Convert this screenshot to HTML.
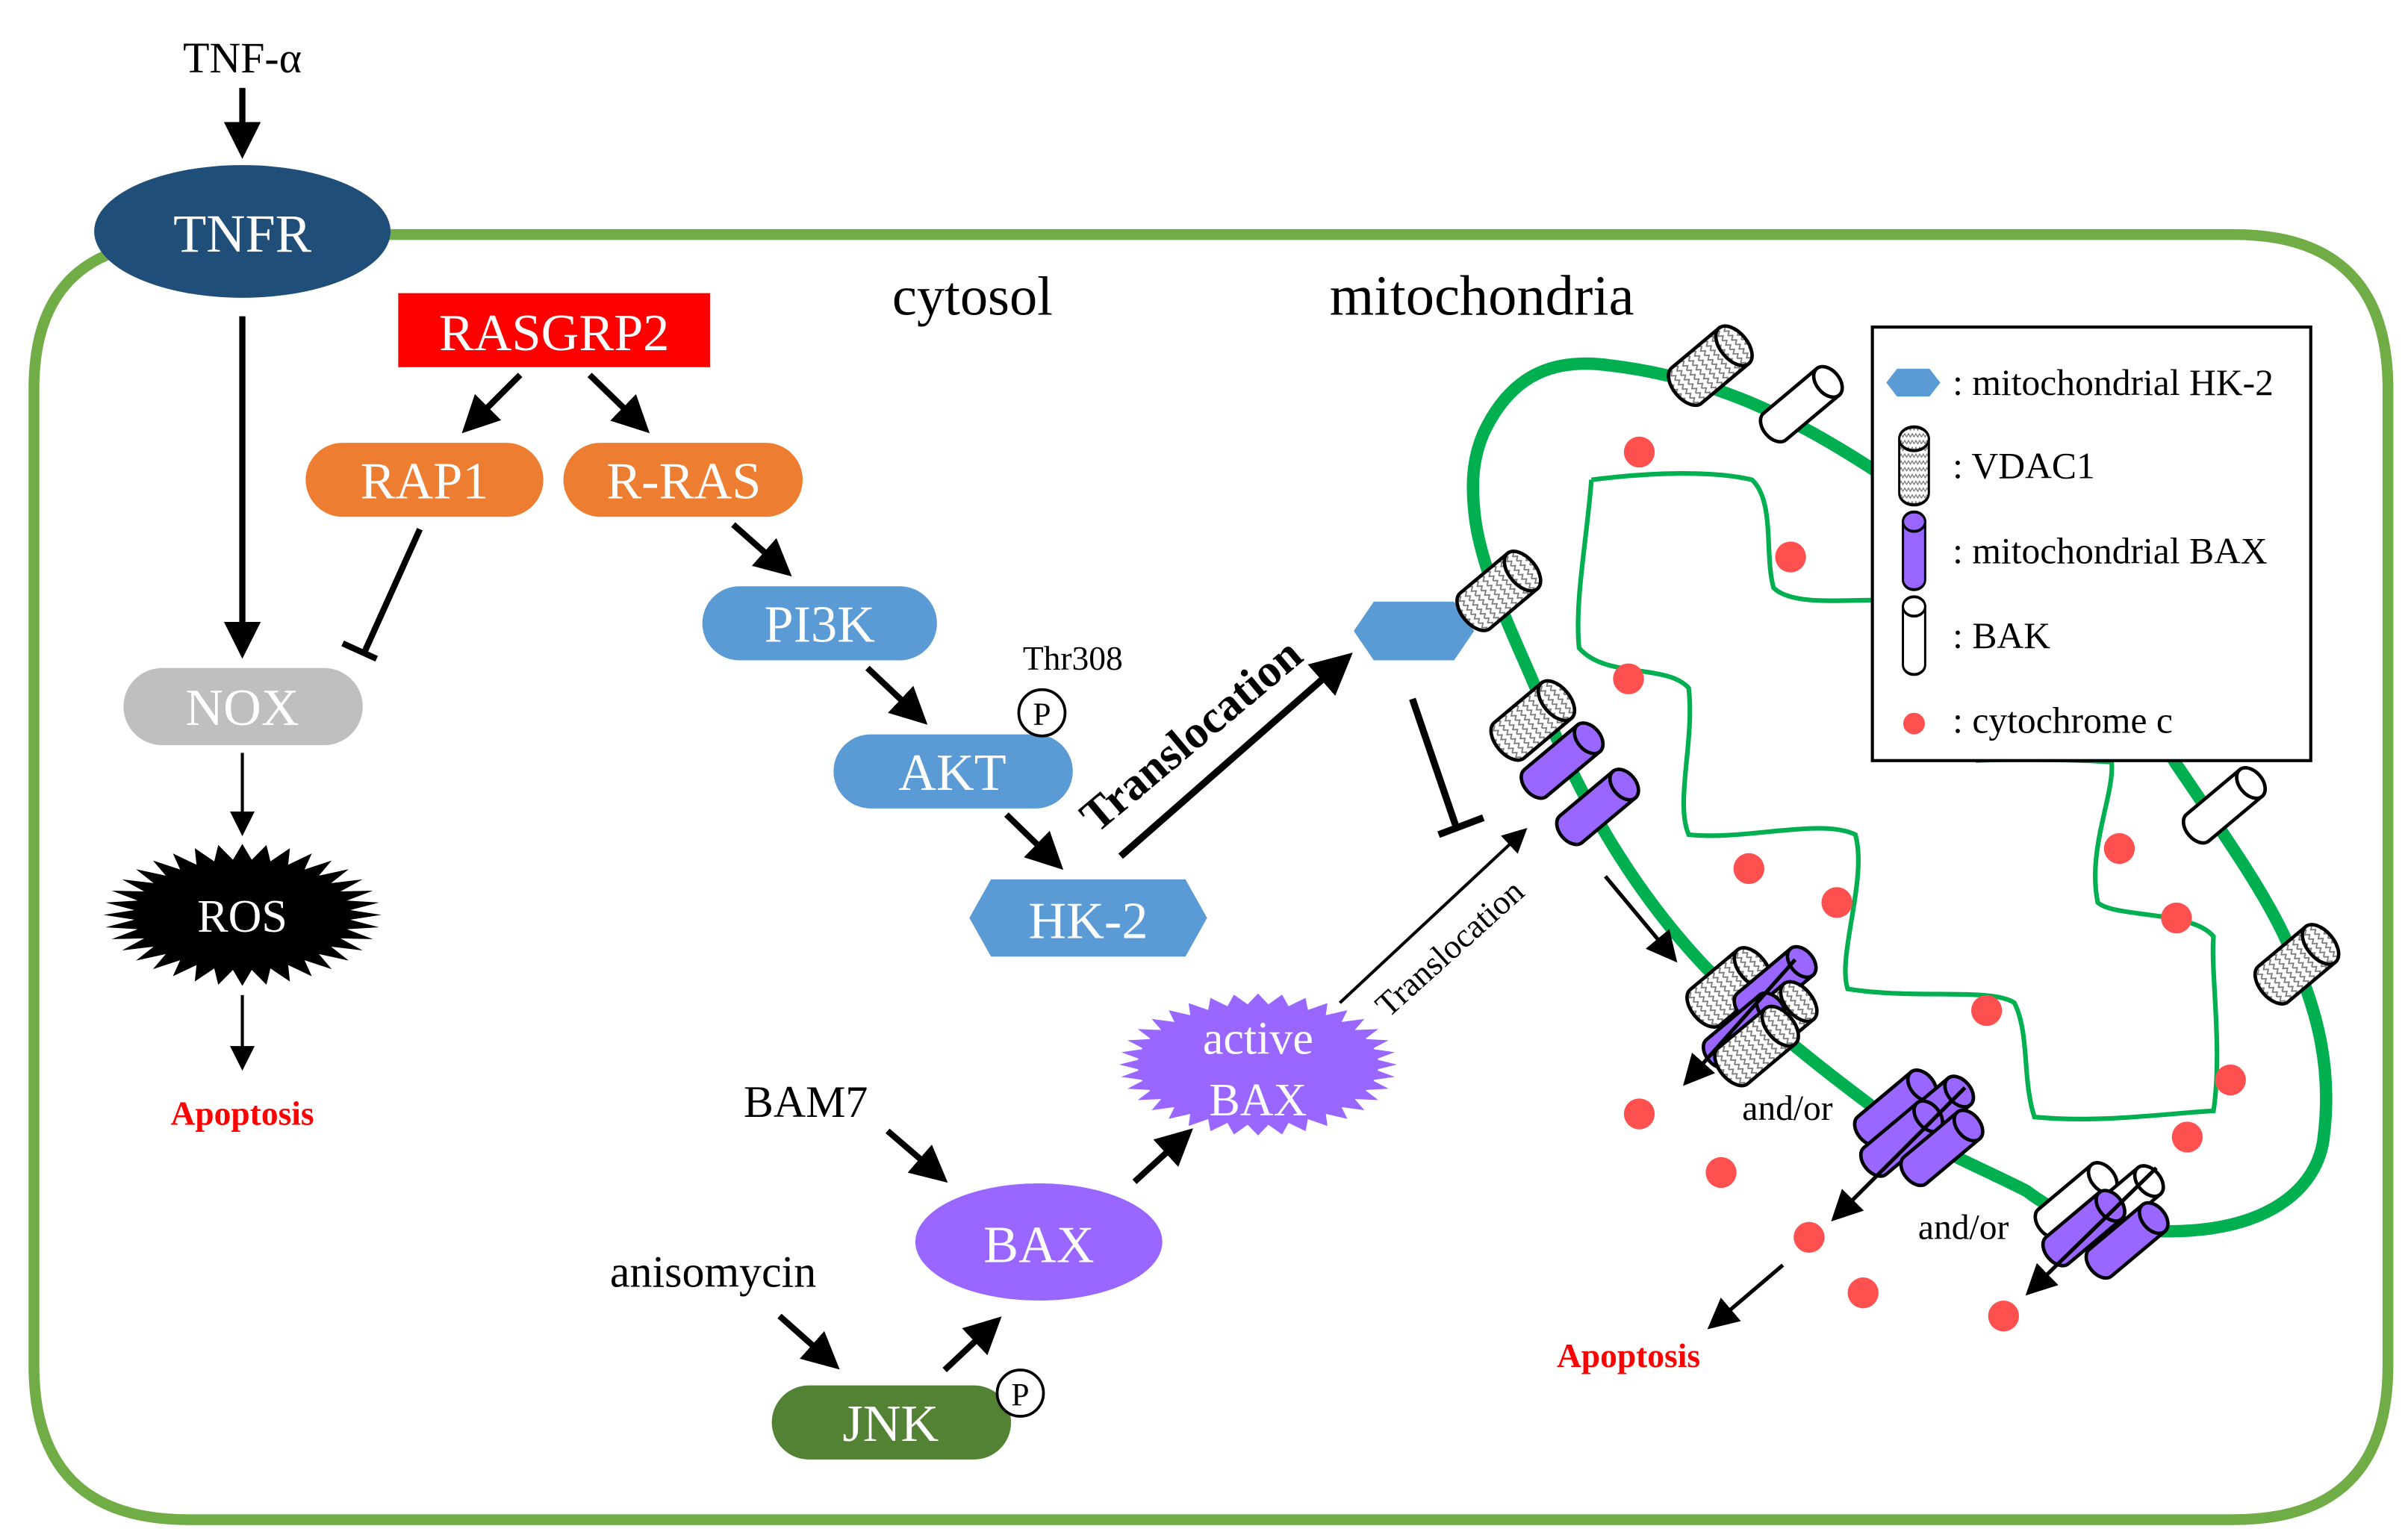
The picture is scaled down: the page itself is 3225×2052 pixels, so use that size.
<!DOCTYPE html>
<html><head><meta charset="utf-8"><style>
html,body{margin:0;padding:0;background:#fff}
svg{display:block}
text{font-family:"Liberation Serif",serif}
</style></head><body>
<svg id="s" width="3225" height="2052" viewBox="0 0 1560 993" preserveAspectRatio="none" xmlns="http://www.w3.org/2000/svg">
<defs>
<marker id="ah" markerWidth="6" markerHeight="6" refX="5" refY="3" orient="auto" markerUnits="strokeWidth"><path d="M0,0 L6,3 L0,6 z" fill="#000"/></marker>
<marker id="ah2" markerWidth="8" markerHeight="8" refX="7" refY="4" orient="auto" markerUnits="strokeWidth"><path d="M0,0 L8,4 L0,8 z" fill="#000"/></marker>
<pattern id="wv" width="6" height="4" patternUnits="userSpaceOnUse"><rect width="6" height="4" fill="#fff"/><path d="M0,3 L1.5,1 L3,3 L4.5,1 L6,3" fill="none" stroke="#777" stroke-width="0.7"/></pattern>
<g id="vdac"><path d="M-12,-16 L-12,16 A12,7 0 0 0 12,16 L12,-16 Z" fill="url(#wv)" stroke="#000" stroke-width="1.8"/><ellipse cx="0" cy="-16" rx="12" ry="7" fill="url(#wv)" stroke="#000" stroke-width="1.8"/></g>
<g id="bax"><path d="M-9,-18 L-9,18 A9,6 0 0 0 9,18 L9,-18 Z" fill="#9966ff" stroke="#000" stroke-width="1.8"/><ellipse cx="0" cy="-18" rx="9" ry="6" fill="#9966ff" stroke="#000" stroke-width="1.8"/></g>
<g id="bak"><path d="M-9,-18 L-9,18 A9,6 0 0 0 9,18 L9,-18 Z" fill="#fff" stroke="#000" stroke-width="1.8"/><ellipse cx="0" cy="-18" rx="9" ry="6" fill="#fff" stroke="#000" stroke-width="1.8"/></g>
</defs>

<path d="M230,152 L1447,152 Q1547,152 1547,252 L1547,885 Q1547,985 1447,985 L122,985 Q22,985 22,885 L22,252 Q22,185 70,165" fill="none" stroke="#70ad47" stroke-width="7"/>

<text x="157" y="47" font-size="28" text-anchor="middle">TNF-α</text>
<line x1="157" y1="57" x2="157" y2="99" stroke="#000" stroke-width="4" marker-end="url(#ah)"/>
<ellipse cx="157" cy="150" rx="96" ry="43" fill="#1f4e79"/>
<text x="157" y="163" font-size="35" fill="#fff" text-anchor="middle">TNFR</text>
<line x1="157" y1="205" x2="157" y2="423" stroke="#000" stroke-width="4" marker-end="url(#ah)"/>
<rect x="80" y="433" width="155" height="50" rx="25" fill="#bfbfbf"/>
<text x="157" y="470" font-size="34" fill="#fff" text-anchor="middle">NOX</text>
<line x1="157" y1="488" x2="157" y2="540" stroke="#000" stroke-width="2" marker-end="url(#ah2)"/>
<ellipse cx="157" cy="593" rx="70" ry="32" fill="#000"/>
<polygon id="ros" fill="#000" points=""/>
<text x="157" y="604" font-size="30" fill="#fff" text-anchor="middle">ROS</text>
<line x1="157" y1="645" x2="157" y2="692" stroke="#000" stroke-width="2" marker-end="url(#ah2)"/>
<text x="157" y="729" font-size="22" font-weight="bold" fill="#ff0000" text-anchor="middle">Apoptosis</text>

<rect x="258" y="190" width="202" height="48" fill="#ff0000"/>
<text x="359" y="227" font-size="34" fill="#fff" text-anchor="middle">RASGRP2</text>
<line x1="337" y1="243" x2="302" y2="278" stroke="#000" stroke-width="4" marker-end="url(#ah)"/>
<line x1="382" y1="243" x2="418" y2="278" stroke="#000" stroke-width="4" marker-end="url(#ah)"/>
<rect x="198" y="287" width="154" height="48" rx="24" fill="#ed7d31"/>
<text x="275" y="323" font-size="34" fill="#fff" text-anchor="middle">RAP1</text>
<rect x="365" y="287" width="155" height="48" rx="24" fill="#ed7d31"/>
<text x="443" y="323" font-size="34" fill="#fff" text-anchor="middle">R-RAS</text>
<line x1="272" y1="343" x2="236" y2="423" stroke="#000" stroke-width="4"/>
<line x1="222" y1="417" x2="244" y2="427" stroke="#000" stroke-width="4"/>
<line x1="475" y1="340" x2="510" y2="371" stroke="#000" stroke-width="4" marker-end="url(#ah)"/>
<rect x="455" y="380" width="152" height="48" rx="24" fill="#5b9bd5"/>
<text x="531" y="416" font-size="34" fill="#fff" text-anchor="middle">PI3K</text>
<line x1="562" y1="433" x2="598" y2="467" stroke="#000" stroke-width="4" marker-end="url(#ah)"/>
<rect x="540" y="476" width="155" height="48" rx="24" fill="#5b9bd5"/>
<text x="617" y="512" font-size="34" fill="#fff" text-anchor="middle">AKT</text>
<text x="695" y="434" font-size="22" text-anchor="middle">Thr308</text>
<circle cx="675" cy="462" r="15" fill="#fff" stroke="#000" stroke-width="1.8"/>
<text x="675" y="470" font-size="21" text-anchor="middle">P</text>
<line x1="652" y1="528" x2="686" y2="561" stroke="#000" stroke-width="4" marker-end="url(#ah)"/>
<polygon points="628,595 642,570 768,570 782,595 768,620 642,620" fill="#5b9bd5"/>
<text x="705" y="608" font-size="34" fill="#fff" text-anchor="middle">HK-2</text>
<line x1="726" y1="555" x2="873" y2="426" stroke="#000" stroke-width="4.5" marker-end="url(#ah)"/>
<text x="0" y="0" font-size="30" font-weight="bold" text-anchor="middle" transform="translate(778,484) rotate(-40)">Translocation</text>

<text x="630" y="204" font-size="36" text-anchor="middle">cytosol</text>
<text x="960" y="204" font-size="37" text-anchor="middle">mitochondria</text>

<path d="M961,281 C980,240 1010,232 1044,237 C1110,245 1160,270 1210,302 C1300,360 1370,430 1409,494 C1440,540 1465,575 1480,607 C1500,650 1512,690 1505,740 C1500,770 1470,800 1397,798 C1350,795 1330,785 1313,772 C1280,755 1240,740 1210,715 C1170,685 1140,660 1106,628 C1060,580 1025,520 1002,463 C985,420 958,370 955,330 C953,310 955,295 961,281 Z" fill="none" stroke="#00b050" stroke-width="8"/>
<path d="M1031,311 C1070,306 1110,305 1135,311 C1150,325 1143,360 1149,381 C1160,392 1190,389 1212,389" fill="none" stroke="#00b050" stroke-width="3"/>
<path d="M1031,311 C1028,350 1020,390 1023,420 C1040,440 1080,430 1094,446 C1098,480 1085,520 1094,541 C1130,545 1180,530 1202,541 C1210,570 1190,620 1197,641 C1240,648 1290,640 1305,650 C1315,670 1310,700 1318,724 C1360,728 1400,722 1434,720 C1440,680 1432,630 1434,607 C1420,590 1370,595 1359,585 C1352,550 1370,515 1368,494 C1340,492 1300,492 1280,493" fill="none" stroke="#00b050" stroke-width="3"/>

<g fill="#ff5050">
<circle cx="1062" cy="293" r="10"/><circle cx="1160" cy="361" r="10"/><circle cx="1055" cy="440" r="10"/>
<circle cx="1133" cy="563" r="10"/><circle cx="1190" cy="585" r="10"/><circle cx="1287" cy="655" r="10"/>
<circle cx="1373" cy="550" r="10"/><circle cx="1410" cy="595" r="10"/><circle cx="1445" cy="700" r="10"/>
<circle cx="1417" cy="737" r="10"/><circle cx="1062" cy="722" r="10"/><circle cx="1115" cy="760" r="10"/>
<circle cx="1172" cy="802" r="10"/><circle cx="1207" cy="838" r="10"/><circle cx="1298" cy="853" r="10"/>
</g>

<use href="#vdac" transform="translate(1108,237) rotate(50) scale(1.25)"/>
<use href="#bak" transform="translate(1167,262) rotate(50) scale(1.25)"/>
<polygon points="877,409 890,390 942,390 955,409 942,428 890,428" fill="#5b9bd5"/>
<use href="#vdac" transform="translate(971,383) rotate(50) scale(1.25)"/>
<use href="#vdac" transform="translate(993,467) rotate(50) scale(1.25)"/>
<use href="#bax" transform="translate(1012,493) rotate(50) scale(1.25)"/>
<use href="#bax" transform="translate(1035,523) rotate(50) scale(1.25)"/>
<use href="#bak" transform="translate(1441,522) rotate(50) scale(1.25)"/>
<use href="#vdac" transform="translate(1488,625) rotate(50) scale(1.25)"/>
<use href="#vdac" transform="translate(1120,640) rotate(50) scale(1.25)"/>
<use href="#bax" transform="translate(1150,638) rotate(50) scale(1.25)"/>
<use href="#vdac" transform="translate(1150,662) rotate(50) scale(1.25)"/>
<use href="#bax" transform="translate(1130,668) rotate(50) scale(1.25)"/>
<use href="#vdac" transform="translate(1138,678) rotate(50) scale(1.25)"/>
<use href="#bax" transform="translate(1228,718) rotate(50) scale(1.25)"/>
<use href="#bax" transform="translate(1252,722) rotate(50) scale(1.25)"/>
<use href="#bax" transform="translate(1232,738) rotate(50) scale(1.25)"/>
<use href="#bax" transform="translate(1258,744) rotate(50) scale(1.25)"/>
<use href="#bak" transform="translate(1345,778) rotate(50) scale(1.25)"/>
<use href="#bak" transform="translate(1375,780) rotate(50) scale(1.25)"/>
<use href="#bax" transform="translate(1350,796) rotate(50) scale(1.25)"/>
<use href="#bax" transform="translate(1378,804) rotate(50) scale(1.25)"/>

<line x1="1163" y1="622" x2="1092" y2="702" stroke="#000" stroke-width="2.5" marker-end="url(#ah2)"/>
<line x1="1273" y1="705" x2="1188" y2="790" stroke="#000" stroke-width="2.5" marker-end="url(#ah2)"/>
<line x1="1397" y1="757" x2="1314" y2="838" stroke="#000" stroke-width="2.5" marker-end="url(#ah2)"/>
<line x1="1040" y1="568" x2="1085" y2="622" stroke="#000" stroke-width="2.5" marker-end="url(#ah2)"/>
<line x1="1155" y1="820" x2="1108" y2="860" stroke="#000" stroke-width="2.5" marker-end="url(#ah2)"/>
<text x="1158" y="726" font-size="23" text-anchor="middle">and/or</text>
<text x="1272" y="803" font-size="23" text-anchor="middle">and/or</text>
<text x="1055" y="886" font-size="22" font-weight="bold" fill="#ff0000" text-anchor="middle">Apoptosis</text>

<line x1="915" y1="453" x2="943" y2="535" stroke="#000" stroke-width="4.5"/>
<line x1="932" y1="541" x2="961" y2="530" stroke="#000" stroke-width="4.5"/>

<text x="522" y="724" font-size="29" text-anchor="middle">BAM7</text>
<line x1="575" y1="733" x2="611" y2="764" stroke="#000" stroke-width="4" marker-end="url(#ah)"/>
<ellipse cx="673" cy="805" rx="80" ry="38" fill="#9966ff"/>
<text x="673" y="818" font-size="34" fill="#fff" text-anchor="middle">BAX</text>
<text x="462" y="834" font-size="29" text-anchor="middle">anisomycin</text>
<line x1="505" y1="853" x2="541" y2="885" stroke="#000" stroke-width="4" marker-end="url(#ah)"/>
<rect x="500" y="898" width="155" height="48" rx="24" fill="#548235"/>
<text x="577" y="934" font-size="34" fill="#fff" text-anchor="middle">JNK</text>
<circle cx="661" cy="903" r="15" fill="#fff" stroke="#000" stroke-width="1.8"/>
<text x="661" y="911" font-size="21" text-anchor="middle">P</text>
<line x1="612" y1="888" x2="646" y2="856" stroke="#000" stroke-width="4" marker-end="url(#ah)"/>
<line x1="735" y1="766" x2="770" y2="734" stroke="#000" stroke-width="4" marker-end="url(#ah)"/>
<ellipse cx="815" cy="690" rx="78" ry="38" fill="#9966ff"/>
<polygon id="abax" fill="#9966ff" points=""/>
<text x="815" y="683" font-size="30" fill="#fff" text-anchor="middle">active</text>
<text x="815" y="723" font-size="30" fill="#fff" text-anchor="middle">BAX</text>
<line x1="868" y1="650" x2="988" y2="538" stroke="#000" stroke-width="2" marker-end="url(#ah2)"/>
<text x="0" y="0" font-size="22" text-anchor="middle" transform="translate(944,620) rotate(-42)">Translocation</text>

<rect x="1213" y="212" width="284" height="281" fill="#fff" stroke="#000" stroke-width="2"/>
<polygon points="1222,248 1229,239 1250,239 1257,248 1250,257 1229,257" fill="#5b9bd5"/>
<use href="#vdac" transform="translate(1240,302) scale(0.8,1.1)"/>
<use href="#bax" transform="translate(1240,357) scale(0.8,1.05)"/>
<use href="#bak" transform="translate(1240,412) scale(0.8,1.05)"/>
<circle cx="1240" cy="469" r="7" fill="#ff5050"/>
<g font-size="24">
<text x="1265" y="256">: mitochondrial HK-2</text>
<text x="1265" y="310">: VDAC1</text>
<text x="1265" y="365">: mitochondrial BAX</text>
<text x="1265" y="420">: BAK</text>
<text x="1265" y="475">: cytochrome c</text>
</g>
</svg>
<script>
function star(id,cx,cy,rx,ry,ri,n){var p=[];for(var i=0;i<2*n;i++){var a=Math.PI*i/n;var f=i%2?ri:1;p.push((cx+rx*f*Math.cos(a)).toFixed(1)+','+(cy+ry*f*Math.sin(a)).toFixed(1));}document.getElementById(id).setAttribute('points',p.join(' '));}
star('ros',157,593,90,46,0.78,36);
star('abax',815,690,90,46,0.85,36);
</script>
</body></html>
